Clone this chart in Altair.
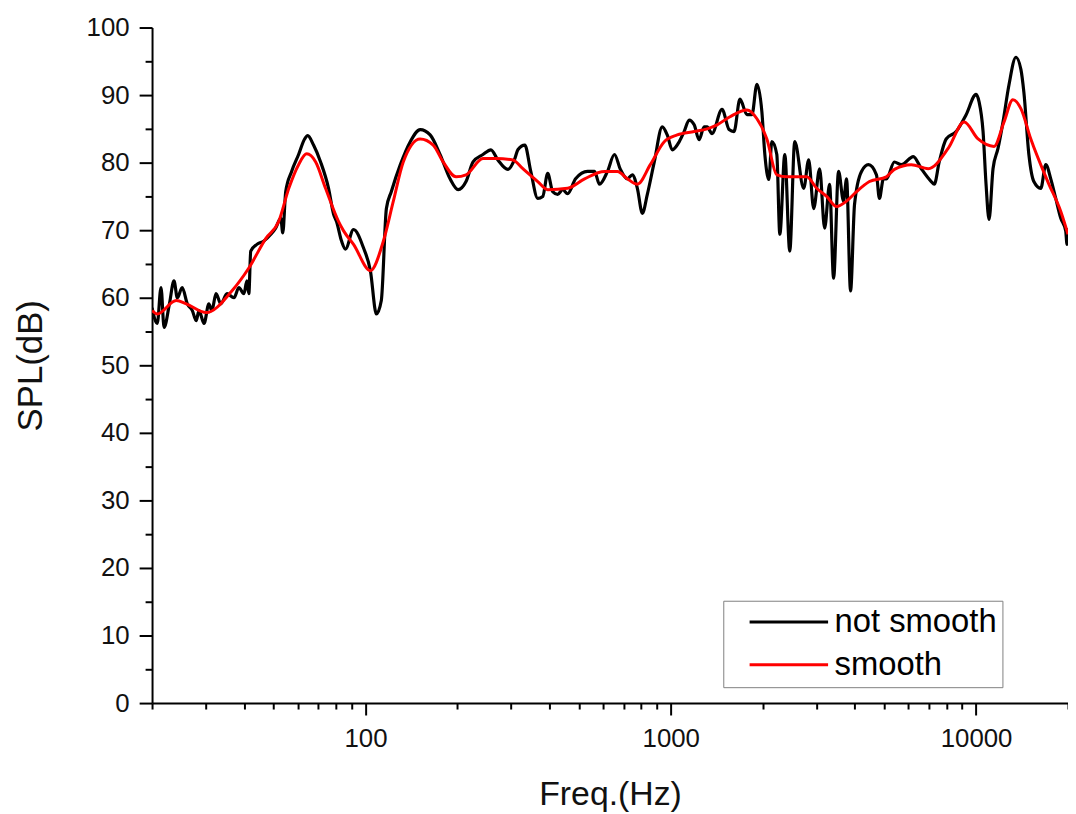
import altair as alt
import pandas as pd

# "not smooth" curve
raw_freq = [20.0, 20.8, 21.4, 21.9, 22.8, 23.6, 24.2, 25.1, 26.1, 27.1, 27.9, 28.5, 29.6, 30.7, 31.4,
            32.4, 33.6, 35.2, 37.1, 38.5, 40.0, 40.9, 41.5, 42.1, 44.1, 46.5, 49.0, 50.8, 52.8, 53.6,
            54.8, 57.3, 60.4, 63.2, 64.7, 67.6, 71.3, 75.7, 78.6, 80.4, 83.5, 86.0, 91.4, 98.5, 103.8,
            108.6, 112.7, 117.1, 121.5, 130.1, 140.2, 151.1, 162.9, 175.6, 189.3, 201.1, 213.5, 225.1,
            242.6, 257.6, 271.5, 292.7, 308.5, 315.6, 332.6, 347.9, 366.7, 380.8, 395.3, 410.5, 426.2,
            442.5, 459.4, 487.8, 533.9, 562.7, 584.2, 620.4, 653.8, 684.0, 721.0, 748.6, 777.3, 807.1,
            837.9, 883.1, 937.8, 973.7, 1011, 1066, 1106, 1149, 1193, 1238, 1286, 1315, 1365, 1472,
            1552, 1611, 1685, 1776, 1844, 1915, 1988, 2033, 2095, 2143, 2225, 2276, 2363, 2453, 2547,
            2725, 2830, 2938, 3073, 3191, 3312, 3414, 3544, 3680, 3765, 3880, 3998, 4214, 4442, 4717,
            4824, 4971, 5085, 5400, 5692, 6228, 6615, 7130, 7293, 7572, 7980, 8604, 9276, 10000, 10228,
            10540, 10780, 11026, 11362, 11796, 12248, 12812, 13504, 14020, 14340, 14890, 15458, 16292,
            16914, 17562, 18234, 18930, 19658, 19850, 20000]
raw_spl = [58.5, 56.2, 61.5, 55.6, 59.1, 62.5, 60.0, 61.5, 59.1, 58.1, 56.6, 58.1, 56.2, 59.1, 58.1,
           60.6, 59.1, 60.6, 60.0, 61.5, 60.6, 62.5, 60.6, 66.9, 67.9, 68.4, 69.4, 70.3, 71.8, 69.6,
           75.7, 78.7, 81.2, 83.5, 84.0, 82.6, 80.1, 76.2, 72.4, 71.3, 68.4, 67.2, 70.1, 67.4, 64.0,
           57.6, 59.6, 73.2, 75.7, 79.7, 83.1, 84.9, 84.1, 81.2, 77.6, 76.0, 77.2, 80.1,
           81.2, 81.9, 80.4, 79.0, 80.6, 81.9, 82.6, 78.7, 74.7, 75.0, 78.4, 75.7, 75.3,
           76.0, 75.4, 77.6, 78.7, 78.7, 76.8, 78.7, 81.2, 79.0, 77.6, 78.2, 76.2, 72.5,
           75.3, 80.1, 85.3, 84.1, 81.9, 83.1, 84.6, 86.3, 85.6, 83.4, 85.3, 85.3, 84.3, 87.9,
           84.9, 84.6, 89.4, 87.1, 87.1, 91.6, 87.5, 81.2, 77.5, 83.1, 81.2, 69.4, 81.2, 66.9, 83.1,
           76.2, 80.4, 73.2, 79.1, 70.3, 76.8, 62.9, 78.7, 74.3, 77.6, 61.0, 73.8, 78.7, 79.7, 78.2,
           74.7, 77.6, 77.6, 80.1, 79.7, 80.9, 79.1, 77.2, 76.8, 80.1, 83.5, 84.6, 87.1, 90.1, 89.0,
           84.6, 76.8, 71.6, 79.1, 82.1, 86.0, 91.5, 95.6, 93.8, 90.4, 81.2, 77.2, 76.2,
           79.7, 77.6, 74.7, 71.8, 69.9, 67.9, 70.3]

# "smooth" curve
smooth_freq = [20.0, 20.8, 24.0, 25.9, 30.1, 36.5, 41.5, 47.2, 52.0, 56.1, 60.4, 64.2, 68.7, 74.0,
               81.6, 84.8, 91.4, 103.8, 114.5, 123.4, 133.0, 151.1, 166.7, 179.7, 198.1, 213.5,
               242.6, 267.5, 304, 327.7, 366.7, 395.3, 459.4, 522.1, 606.7, 668.9, 721.1, 777.5,
               857.0, 952.1, 1050, 1193, 1315, 1418, 1563, 1776, 1915, 2064, 2225, 2399, 2586, 2788,
               3006, 3240, 3493, 3765, 4059, 4475, 5085, 5400, 6135, 6970, 8100, 9136, 10150, 11450,
               12340, 13200, 14020, 15110, 17170, 18930, 20000]
smooth_spl = [58.1, 57.6, 59.6, 59.1, 57.8, 61.0, 64.4, 68.8, 71.3, 76.2, 79.7, 81.3, 80.1, 76.2,
              71.3, 69.9, 67.9, 64.0, 68.4, 74.3, 80.1, 83.5, 82.6, 80.1, 77.9, 78.2,
              80.6, 80.6, 80.4, 79.1, 77.2, 76.0, 76.2, 77.6, 78.7, 78.7, 77.6, 76.8,
              79.7, 83.1, 84.1, 84.6, 85.0, 85.6, 86.8, 87.8, 86.5, 83.5, 78.2, 77.9, 77.9, 77.9,
              76.2, 75.0, 73.5, 74.3, 75.7, 77.2, 77.9, 79.0, 79.7, 79.1, 82.1, 86.0, 83.5, 82.4,
              86.0, 89.3, 88.0, 83.5, 77.2, 72.8, 69.4]

series_names = ["not smooth", "smooth"]
series_colors = ["#000000", "#ff0000"]

x_ticks = [20, 30, 40, 50, 60, 70, 80, 90, 100, 200, 300, 400, 500, 600, 700, 800, 900,
           1000, 2000, 3000, 4000, 5000, 6000, 7000, 8000, 9000, 10000, 20000]
y_ticks = list(range(0, 101, 5))

df_raw = pd.DataFrame({"freq": raw_freq, "spl": raw_spl, "series": series_names[0]})
df_smooth = pd.DataFrame({"freq": smooth_freq, "spl": smooth_spl, "series": series_names[1]})

FONT = "Liberation Sans"

x_enc = alt.X("freq:Q",
              scale=alt.Scale(type="log", domain=[20, 20000], nice=False),
              axis=alt.Axis(
                  values=x_ticks,
                  title="Freq.(Hz)",
                  labelExpr="(datum.value == 100 || datum.value == 1000 || datum.value == 10000) ? format(datum.value, 'd') : ''",
                  tickSize={"condition": {"test": "datum.value == 100 || datum.value == 1000 || datum.value == 10000", "value": 12}, "value": 6},
                  labelOverlap=False,
                  labelFlush=False,
                  labelPadding=11,
                  titlePadding=26,
                  titleFontSize=34,
              ))
y_enc = alt.Y("spl:Q",
              scale=alt.Scale(domain=[0, 100], nice=False, zero=False),
              axis=alt.Axis(
                  values=y_ticks,
                  title="SPL(dB)",
                  labelExpr="datum.value % 10 == 0 ? datum.label : ''",
                  tickSize={"condition": {"test": "datum.value % 10 == 0", "value": 13}, "value": 7},
                  labelOverlap=False,
                  labelPadding=10,
                  titlePadding=38,
                  titleFontSize=35,
              ))
color_enc = alt.Color("series:N",
                      scale=alt.Scale(domain=series_names, range=series_colors),
                      legend=alt.Legend(
                          title=None,
                          orient="none",
                          legendX=575,
                          legendY=577,
                          padding=5,
                          strokeColor="#808080",
                          fillColor="white",
                          symbolType="M0.5,0H8.4",
                          symbolSize=400,
                          symbolStrokeWidth=3,
                          labelFontSize=33,
                          labelFont=FONT,
                          labelColor="black",
                          labelOffset=74,
                          labelLimit=400,
                          rowPadding=9,
                      ))

raw_line = alt.Chart(df_raw).mark_line(strokeWidth=3.2, clip=True, interpolate="monotone").encode(
    x=x_enc, y=y_enc, color=color_enc)
smooth_line = alt.Chart(df_smooth).mark_line(strokeWidth=3, clip=True, interpolate="monotone").encode(
    x=x_enc, y=y_enc, color=color_enc)

chart = alt.layer(raw_line, smooth_line).properties(
    width=922,
    height=680,
    autosize=alt.AutoSizeParams(type="none"),
    padding={"left": 145, "top": 17, "right": 0, "bottom": 109},
).configure_view(stroke=None).configure_axis(
    grid=False,
    domainColor="black",
    domainWidth=2,
    tickColor="black",
    tickWidth=2,
    labelColor="#111111",
    labelFont=FONT,
    labelFontSize=26,
    titleFont=FONT,
    titleFontWeight="normal",
    titleColor="#111111",
)

chart.save("out.html", embed_options={"renderer": "svg", "actions": False})
